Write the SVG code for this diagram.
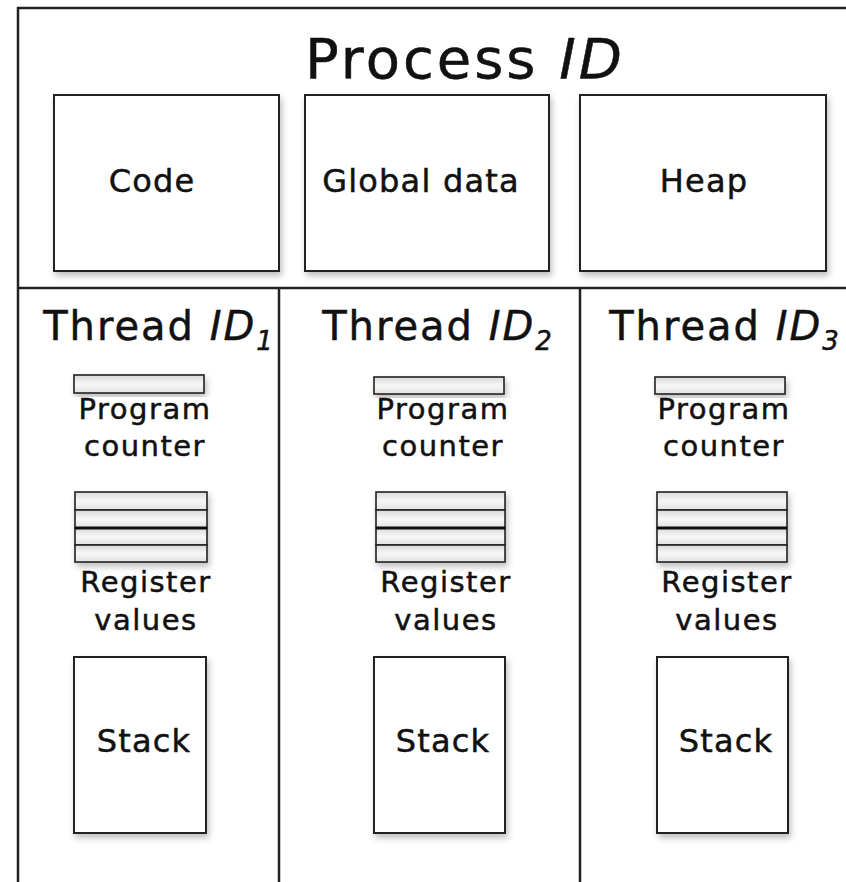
<svg xmlns="http://www.w3.org/2000/svg" width="846" height="882" viewBox="0 0 846 882">
<defs>
<filter id="sh" x="-10%" y="-10%" width="130%" height="130%">
<feDropShadow dx="2" dy="4" stdDeviation="3" flood-color="#000" flood-opacity="0.25"/>
</filter>
<linearGradient id="bar" x1="0" y1="0" x2="0" y2="1">
<stop offset="0" stop-color="#d9d9d9"/>
<stop offset="0.5" stop-color="#f7f7f7"/>
<stop offset="1" stop-color="#e2e2e2"/>
</linearGradient>
</defs>
<style>
.box{fill:#fff;stroke:#222;stroke-width:2;filter:url(#sh)}
.bar{fill:url(#bar);stroke:#222;stroke-width:1.6}
.line{stroke:#222;stroke-width:2.5;fill:none}
text{font-family:"DejaVu Sans","Liberation Sans",sans-serif;fill:#111;stroke:#111;stroke-width:0.5;text-anchor:middle}
.it{font-style:italic}
.t1{font-size:56px;letter-spacing:3px}
.t2{font-size:32px;letter-spacing:1.2px}
.t3{font-size:40px;letter-spacing:2px}
.t4{font-size:29px;letter-spacing:1.5px}
</style>
<rect width="846" height="882" fill="#fff"/>
<g id="frame">
<path class="line" d="M18 890 V8 H850"/>
<path class="line" d="M18 288 H850"/>
<path class="line" d="M279 288 V890"/>
<path class="line" d="M580 288 V890"/>
</g>
<g id="process">
<text class="t1" x="465" y="78">Process <tspan class="it">ID</tspan></text>
</g>
<g id="code"><rect class="box" x="54" y="95" width="225" height="176"/><text class="t2" x="152" y="192">Code</text></g>
<g id="global"><rect class="box" x="305" y="95" width="244" height="176"/><text class="t2" x="421" y="192">Global data</text></g>
<g id="heap"><rect class="box" x="580" y="95" width="246" height="176"/><text class="t2" x="704" y="192">Heap</text></g>

<g id="thread1">
<text class="t3" x="159" y="340">Thread <tspan class="it">ID<tspan font-size="26" dy="10">1</tspan></tspan></text>
<rect class="bar" x="74" y="375" width="130" height="18" filter="url(#sh)"/>
<text class="t4" x="145" y="419">Program</text>
<text class="t4" x="145" y="456">counter</text>
<g filter="url(#sh)">
<rect class="bar" x="75" y="492" width="132" height="18"/>
<rect class="bar" x="75" y="510" width="132" height="18"/>
<rect class="bar" x="75" y="528" width="132" height="17"/>
<rect class="bar" x="75" y="545" width="132" height="17"/>
<line x1="75" y1="528" x2="207" y2="528" stroke="#111" stroke-width="3"/>
</g>
<text class="t4" x="146" y="592">Register</text>
<text class="t4" x="146" y="630">values</text>
<rect class="box" x="74" y="657" width="132" height="176"/>
<text class="t2" x="144" y="752">Stack</text>
</g>

<g id="thread2">
<text class="t3" x="438" y="340">Thread <tspan class="it">ID<tspan font-size="26" dy="10">2</tspan></tspan></text>
<rect class="bar" x="374" y="377" width="130" height="17" filter="url(#sh)"/>
<text class="t4" x="443" y="419">Program</text>
<text class="t4" x="443" y="456">counter</text>
<g filter="url(#sh)">
<rect class="bar" x="376" y="492" width="129" height="18"/>
<rect class="bar" x="376" y="510" width="129" height="18"/>
<rect class="bar" x="376" y="528" width="129" height="17"/>
<rect class="bar" x="376" y="545" width="129" height="17"/>
<line x1="376" y1="528" x2="505" y2="528" stroke="#111" stroke-width="3"/>
</g>
<text class="t4" x="446" y="592">Register</text>
<text class="t4" x="446" y="630">values</text>
<rect class="box" x="374" y="657" width="131" height="176"/>
<text class="t2" x="443" y="752">Stack</text>
</g>

<g id="thread3">
<text class="t3" x="725" y="340">Thread <tspan class="it">ID<tspan font-size="26" dy="10">3</tspan></tspan></text>
<rect class="bar" x="655" y="377" width="130" height="17" filter="url(#sh)"/>
<text class="t4" x="724" y="419">Program</text>
<text class="t4" x="724" y="456">counter</text>
<g filter="url(#sh)">
<rect class="bar" x="657" y="492" width="130" height="18"/>
<rect class="bar" x="657" y="510" width="130" height="18"/>
<rect class="bar" x="657" y="528" width="130" height="17"/>
<rect class="bar" x="657" y="545" width="130" height="17"/>
<line x1="657" y1="528" x2="787" y2="528" stroke="#111" stroke-width="3"/>
</g>
<text class="t4" x="727" y="592">Register</text>
<text class="t4" x="727" y="630">values</text>
<rect class="box" x="657" y="657" width="131" height="176"/>
<text class="t2" x="726" y="752">Stack</text>
</g>
</svg>
